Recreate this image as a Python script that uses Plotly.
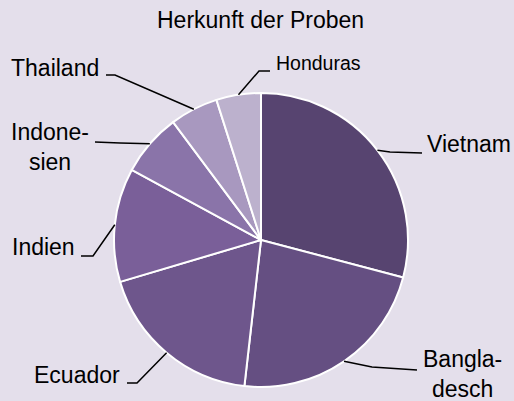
"""Pie chart: origin of the samples."""

import math

import plotly.graph_objects as go

W, H = 514, 401

countries = ["Vietnam", "Bangladesch", "Ecuador", "Indien", "Indonesien", "Thailand", "Honduras"]
label_text = ["Vietnam", "Bangla-<br>desch", "Ecuador", "Indien", "Indone-<br>sien", "Thailand", "Honduras"]
shares = [29.1, 22.7, 18.6, 12.5, 6.9, 5.3, 4.9]
colors = ["#574470", "#654f82", "#6e568c", "#7a5f99", "#8a74a9", "#a898bf", "#bcb1cd"]

# pie placement in pixels
cx, cy, r = 261, 240, 147

# label placement (pixels): elbow, line end, text anchor
label_layout = {
    "Vietnam": {"elbow": (390, 152), "end": (422, 153), "pos": (425, 144), "xanchor": "left"},
    "Bangladesch": {"elbow": (372, 367), "end": (417, 370), "pos": (462, 374), "xanchor": "center"},
    "Ecuador": {"elbow": (137, 383), "end": (127, 383), "pos": (122, 375), "xanchor": "right"},
    "Indien": {"elbow": (93, 256), "end": (81, 256), "pos": (77, 247), "xanchor": "right"},
    "Indonesien": {"elbow": (120, 143), "end": (95, 142), "pos": (50, 147), "xanchor": "center"},
    "Thailand": {"elbow": (115, 75), "end": (106, 75), "pos": (101, 68), "xanchor": "right"},
    "Honduras": {"elbow": (259, 71), "end": (270, 71), "pos": (274, 63), "xanchor": "left"},
}


def px(x, y):
    return x / W, 1 - y / H


fig = go.Figure(
    go.Pie(
        labels=countries,
        values=shares,
        sort=False,
        direction="clockwise",
        rotation=0,
        marker={"colors": colors, "line": {"color": "white", "width": 2}},
        textinfo="none",
        hoverinfo="label+percent",
        domain={"x": [(cx - r) / W, (cx + r) / W], "y": [1 - (cy + r) / H, 1 - (cy - r) / H]},
        showlegend=False,
    )
)

total = sum(shares)
cum = 0.0
for name, text, share in zip(countries, label_text, shares):
    mid = (cum + share / 2) / total * 2 * math.pi
    cum += share
    start = (cx + r * math.sin(mid), cy - r * math.cos(mid))
    lay = label_layout[name]
    pts = [px(*start), px(*lay["elbow"]), px(*lay["end"])]
    path = "M {} {} L {} {} L {} {}".format(*[v for p in pts for v in p])
    fig.add_shape(type="path", path=path, xref="paper", yref="paper",
                  line={"color": "black", "width": 1.5})
    ax, ay = px(*lay["pos"])
    # Honduras is set in a narrower face in the original
    small = name == "Honduras"
    fig.add_annotation(
        x=ax, y=ay, xref="paper", yref="paper", text=text, showarrow=False,
        xanchor=lay["xanchor"], yanchor="middle", align="center",
        font={"family": "Liberation Sans, Arial", "size": 19.5 if small else 23, "color": "black"},
    )

fig.add_annotation(
    x=260 / W, y=1 - 20 / H, xref="paper", yref="paper", text="Herkunft der Proben",
    showarrow=False, xanchor="center", yanchor="middle",
    font={"family": "Liberation Sans, Arial", "size": 23, "color": "black"},
)

fig.update_layout(
    width=W,
    height=H,
    margin={"l": 0, "r": 0, "t": 0, "b": 0},
    paper_bgcolor="#e4dfeb",
    plot_bgcolor="#e4dfeb",
)

# drop the default page margin so the figure fills the window exactly
fig.write_html(
    "out.html",
    config={"displayModeBar": False},
    post_script="document.body.style.margin = '0';",
)
